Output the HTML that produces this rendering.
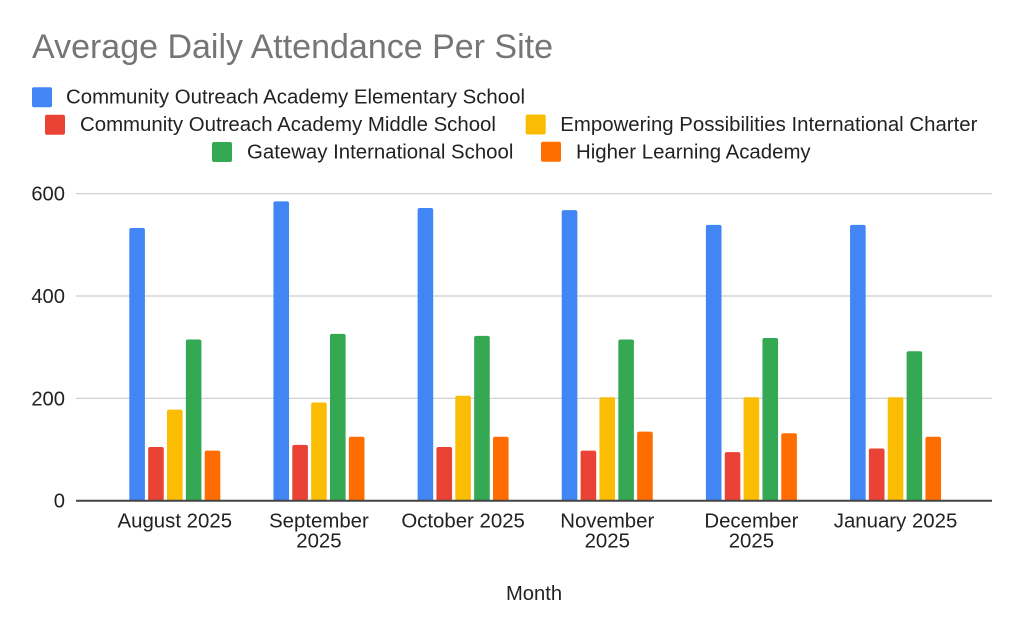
<!DOCTYPE html>
<html>
<head>
<meta charset="utf-8">
<style>
  html, body { margin: 0; padding: 0; background: #ffffff; }
  svg { display: block; }
  text { font-family: "Liberation Sans", Arial, sans-serif; }
</style>
</head>
<body>
<svg width="1024" height="635" viewBox="0 0 1024 635" xmlns="http://www.w3.org/2000/svg">
  <defs>
    <clipPath id="plot"><rect x="0" y="0" width="1024" height="500.5"/></clipPath>
  </defs>
  <rect x="0" y="0" width="1024" height="635" fill="#ffffff"/>

  <!-- Title -->
  <text x="32" y="58" font-size="34" fill="#757575">Average Daily Attendance Per Site</text>

  <!-- Legend -->
  <g font-size="20.4" fill="#222222">
    <rect x="32" y="87.3" width="20" height="20" rx="2" fill="#4285F4"/>
    <text x="66" y="103.5">Community Outreach Academy Elementary School</text>

    <rect x="45" y="114.7" width="20" height="20" rx="2" fill="#EA4335"/>
    <text x="80" y="131">Community Outreach Academy Middle School</text>
    <rect x="525.7" y="114.5" width="20" height="20" rx="2" fill="#FBBC04"/>
    <text x="560.3" y="131">Empowering Possibilities International Charter</text>

    <rect x="212" y="142" width="20" height="20" rx="2" fill="#34A853"/>
    <text x="247" y="158.5">Gateway International School</text>
    <rect x="541" y="141.8" width="20" height="20" rx="2" fill="#FF6D01"/>
    <text x="576" y="158.5">Higher Learning Academy</text>
  </g>

  <!-- Gridlines -->
  <g stroke="#cccccc" stroke-width="1.2">
    <line x1="76" y1="193.7" x2="992" y2="193.7"/>
    <line x1="76" y1="296" x2="992" y2="296"/>
    <line x1="76" y1="398.3" x2="992" y2="398.3"/>
  </g>

  <!-- Y labels -->
  <g font-size="20.2" fill="#222222" text-anchor="end">
    <text x="65" y="200.7">600</text>
    <text x="65" y="303">400</text>
    <text x="65" y="405.3">200</text>
    <text x="65" y="507.7">0</text>
  </g>

  <!-- Bars -->
  <g clip-path="url(#plot)">
    <!-- August -->
    <rect x="129.3" y="228.0" width="15.6" height="276" rx="2" fill="#4285F4"/>
    <rect x="148.15" y="447.0" width="15.6" height="57" rx="2" fill="#EA4335"/>
    <rect x="167.0" y="409.6" width="15.6" height="95" rx="2" fill="#FBBC04"/>
    <rect x="185.85" y="339.5" width="15.6" height="165" rx="2" fill="#34A853"/>
    <rect x="204.7" y="450.6" width="15.6" height="54" rx="2" fill="#FF6D01"/>
    <!-- September -->
    <rect x="273.45" y="201.4" width="15.6" height="303" rx="2" fill="#4285F4"/>
    <rect x="292.3" y="444.9" width="15.6" height="60" rx="2" fill="#EA4335"/>
    <rect x="311.15" y="402.5" width="15.6" height="102" rx="2" fill="#FBBC04"/>
    <rect x="330.0" y="333.9" width="15.6" height="171" rx="2" fill="#34A853"/>
    <rect x="348.85" y="436.7" width="15.6" height="68" rx="2" fill="#FF6D01"/>
    <!-- October -->
    <rect x="417.6" y="208.0" width="15.6" height="297" rx="2" fill="#4285F4"/>
    <rect x="436.45" y="447.0" width="15.6" height="57" rx="2" fill="#EA4335"/>
    <rect x="455.3" y="395.8" width="15.6" height="109" rx="2" fill="#FBBC04"/>
    <rect x="474.15" y="335.9" width="15.6" height="169" rx="2" fill="#34A853"/>
    <rect x="493.0" y="436.7" width="15.6" height="68" rx="2" fill="#FF6D01"/>
    <!-- November -->
    <rect x="561.75" y="210.1" width="15.6" height="294" rx="2" fill="#4285F4"/>
    <rect x="580.6" y="450.6" width="15.6" height="54" rx="2" fill="#EA4335"/>
    <rect x="599.45" y="397.3" width="15.6" height="107" rx="2" fill="#FBBC04"/>
    <rect x="618.3" y="339.5" width="15.6" height="165" rx="2" fill="#34A853"/>
    <rect x="637.15" y="431.6" width="15.6" height="73" rx="2" fill="#FF6D01"/>
    <!-- December -->
    <rect x="705.9" y="224.9" width="15.6" height="279" rx="2" fill="#4285F4"/>
    <rect x="724.75" y="452.1" width="15.6" height="52" rx="2" fill="#EA4335"/>
    <rect x="743.6" y="397.3" width="15.6" height="107" rx="2" fill="#FBBC04"/>
    <rect x="762.45" y="338.0" width="15.6" height="166" rx="2" fill="#34A853"/>
    <rect x="781.3" y="433.2" width="15.6" height="71" rx="2" fill="#FF6D01"/>
    <!-- January -->
    <rect x="850.05" y="224.9" width="15.6" height="279" rx="2" fill="#4285F4"/>
    <rect x="868.9" y="448.5" width="15.6" height="56" rx="2" fill="#EA4335"/>
    <rect x="887.75" y="397.3" width="15.6" height="107" rx="2" fill="#FBBC04"/>
    <rect x="906.6" y="351.3" width="15.6" height="153" rx="2" fill="#34A853"/>
    <rect x="925.45" y="436.7" width="15.6" height="68" rx="2" fill="#FF6D01"/>
  </g>

  <!-- Baseline -->
  <line x1="76" y1="500.7" x2="992" y2="500.7" stroke="#444444" stroke-width="2"/>

  <!-- X labels -->
  <g font-size="20.4" fill="#222222" text-anchor="middle">
    <text x="174.8" y="527.3">August 2025</text>
    <text x="318.95" y="527.3">September</text>
    <text x="318.95" y="547.5">2025</text>
    <text x="463.1" y="527.3">October 2025</text>
    <text x="607.25" y="527.3">November</text>
    <text x="607.25" y="547.5">2025</text>
    <text x="751.4" y="527.3">December</text>
    <text x="751.4" y="547.5">2025</text>
    <text x="895.55" y="527.3">January 2025</text>
  </g>

  <!-- X axis title -->
  <text x="534" y="600" font-size="20.2" fill="#222222" text-anchor="middle">Month</text>
</svg>
</body>
</html>
